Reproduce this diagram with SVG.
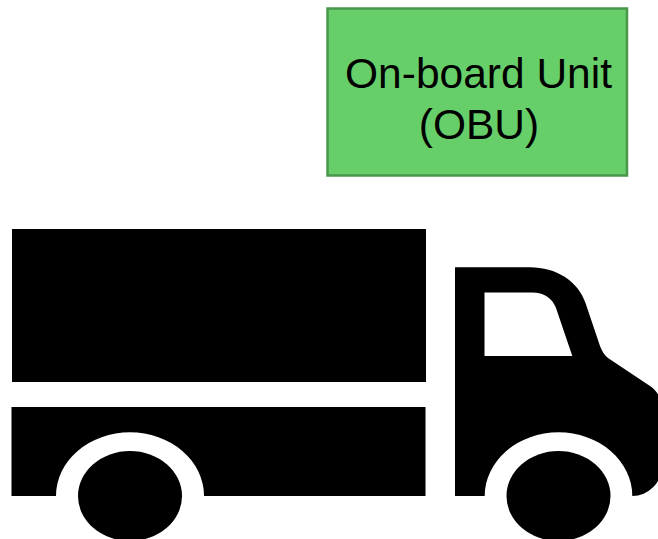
<svg xmlns="http://www.w3.org/2000/svg" width="658" height="539" viewBox="0 0 658 539">
<style>
.t{font-family:"Liberation Sans",Arial,sans-serif;font-size:42.5px;fill:#000;text-anchor:middle}
.k{fill:#000}
</style>
<rect width="658" height="539" fill="#fff"/>
<g id="truck">
<rect class="k" x="12" y="229" width="414" height="153"/>
<path class="k" d="M11.5 407H425.5V496H204A74 63.7 0 0 0 56 496H11.5Z"/>
<ellipse class="k" cx="130" cy="496" rx="52" ry="45"/>
<path class="k" fill-rule="evenodd" d="M455 267.300H530C556 267.300 578 281 585.500 303L600 346C602 351 604 355 608 358L650 386C656 390 662 398 662 408V466A30 30 0 0 1 632.300 496A73.800 63.700 0 0 0 484.700 496H455ZM484.500 292.500V356H572.300L556 308C552 298 544 292.500 532 292.500Z"/>
<ellipse class="k" cx="558.500" cy="496" rx="52" ry="45"/>
</g>
<g id="obu">
<rect x="327.500" y="8.500" width="299.500" height="167" fill="#66cf6a" stroke="#4a964a" stroke-width="2.500"/>
<text class="t" x="478.500" y="88">On-board Unit</text>
<text class="t" x="479" y="138.500">(OBU)</text>
</g>
</svg>
